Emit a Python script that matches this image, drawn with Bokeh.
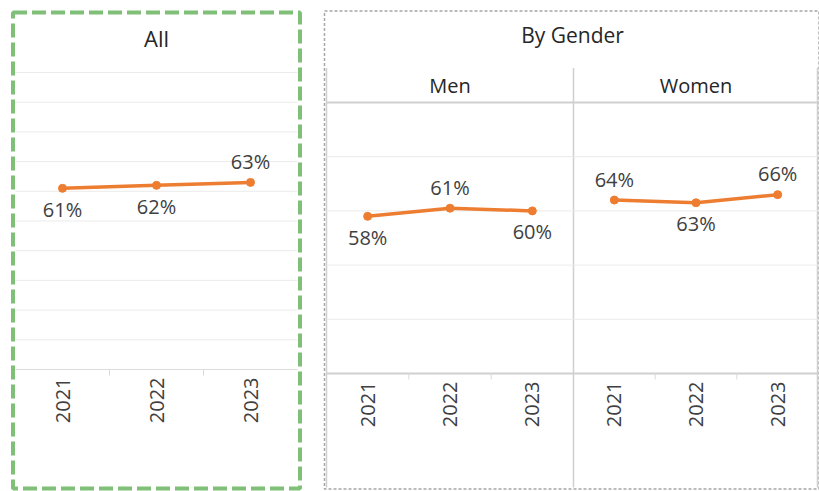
import math
from bokeh.plotting import figure
from bokeh.models import Range1d
from bokeh.core.properties import value
from bokeh.embed import file_html
from bokeh.resources import INLINE

# ---------------- data ----------------
years = ["2021", "2022", "2023"]
all_values = [0.61, 0.62, 0.63]
men_values = [0.58, 0.61, 0.60]
women_values = [0.64, 0.63, 0.66]
all_label_pos = ["below", "below", "above"]
men_label_pos = ["below", "above", "below"]
women_label_pos = ["above", "below", "above"]
all_gridlines = [0.0, 0.1, 0.2, 0.3, 0.4, 0.5, 0.6, 0.7, 0.8, 0.9, 1.0]
gender_gridlines = [0.0, 0.2, 0.4, 0.6, 0.8, 1.0]
title_all = "All"
title_gender = "By Gender"
gender_groups = ["Men", "Women"]

# ---------------- layout / style ----------------
W, H = 819, 491
FONT = "Open Sans"
ORANGE = "#ED7D31"
LABEL_COLOR = "#404040"
TITLE_COLOR = "#262626"
GREEN = "#80BF78"

ALL_L, ALL_R, ALL_T, ALL_B = 15, 297, 72, 369
MEN_L, MEN_R = 326, 573
WOM_L, WOM_R = 573, 818
G_T, G_B = 102, 373

p = figure(width=W, height=H, output_backend="svg", toolbar_location=None,
           x_range=Range1d(0, W), y_range=Range1d(H, 0),
           x_axis_type=None, y_axis_type=None, min_border=0,
           outline_line_color=None, background_fill_color="white",
           border_fill_color="white")

xr, yr = {}, {}
n = len(years)


def add_panel(name, left, right, top, bottom):
    sx = n / (right - left)
    xr[name] = Range1d(-0.5 - left * sx, -0.5 + (W - left) * sx)
    sy = 1.0 / (bottom - top)
    yr[name] = Range1d(0 - (H - bottom) * sy, 1 + top * sy)
    return sy


sy_all = add_panel("all", ALL_L, ALL_R, ALL_T, ALL_B)
sy_men = add_panel("men", MEN_L, MEN_R, G_T, G_B)
sy_wom = add_panel("women", WOM_L, WOM_R, G_T, G_B)
p.extra_x_ranges = xr
p.extra_y_ranges = yr

# ---------- decorations in pixel space ----------
# green dashed box around "All"
p.quad(left=[12.5], right=[299.5], top=[12], bottom=[488], fill_color=None,
       line_color=GREEN, line_width=4, line_dash="14 5")
# grey dashed box around "By Gender"
p.quad(left=[324], right=[818.5], top=[10.5], bottom=[488.5], fill_color=None,
       line_color="#A6A6A6", line_width=1.5, line_dash="3 2")
# vertical separators of the gender facets
p.segment(x0=[MEN_L, WOM_L, WOM_R - 1], x1=[MEN_L, WOM_L, WOM_R - 1],
          y0=[67.5] * 3, y1=[487] * 3, line_color="#D0D0D0", line_width=1.5)

# titles
p.text(x=[(ALL_L + ALL_R) / 2], y=[37], text=[title_all], text_align="center",
       text_baseline="middle", text_font=value(FONT), text_font_size="22px",
       text_color=TITLE_COLOR)
p.text(x=[(MEN_L + WOM_R) / 2], y=[34], text=[title_gender], text_align="center",
       text_baseline="middle", text_font=value(FONT), text_font_size="21px",
       text_color=TITLE_COLOR)
p.text(x=[(MEN_L + MEN_R) / 2, (WOM_L + WOM_R) / 2], y=[85, 85], text=gender_groups,
       text_align="center", text_baseline="middle", text_font=value(FONT),
       text_font_size="20px", text_color=TITLE_COLOR)


def draw_panel(name, values, label_pos, gridlines, sy, heavy_edges):
    idx = list(range(n))
    kw = dict(x_range_name=name, y_range_name=name)
    # gridlines
    light = [g for g in gridlines if not (heavy_edges and g in (0.0, 1.0))]
    p.segment(x0=[-0.5] * len(light), x1=[n - 0.5] * len(light), y0=light, y1=light,
              line_color="#EBEBEB", line_width=1, **kw)
    if heavy_edges:
        edges = [0.0, 1.0]
        p.segment(x0=[-0.5] * 2, x1=[n - 0.5] * 2, y0=edges, y1=edges,
                  line_color="#D0D0D0", line_width=2, **kw)
    else:
        p.segment(x0=[-0.5], x1=[n - 0.5], y0=[0.0], y1=[0.0],
                  line_color="#DDDDDD", line_width=1.2, **kw)
    # category boundary ticks
    b = [i + 0.5 for i in idx[:-1]]
    p.segment(x0=b, x1=b, y0=[0.0] * len(b), y1=[-6 * sy] * len(b),
              line_color="#D9D9D9", line_width=1, **kw)
    # series
    p.line(idx, values, line_color=ORANGE, line_width=3.5, **kw)
    p.scatter(idx, values, size=8, fill_color=ORANGE, line_color=ORANGE, **kw)
    # data labels
    for pos, off in (("above", -21), ("below", 21)):
        sel = [i for i in idx if label_pos[i] == pos]
        if not sel:
            continue
        p.text(x=sel, y=[values[i] for i in sel],
               text=[f"{round(values[i] * 100)}%" for i in sel],
               y_offset=off, text_align="center", text_baseline="middle",
               text_font=value(FONT), text_font_size="20px",
               text_color=LABEL_COLOR, **kw)
    # year labels (rotated)
    p.text(x=idx, y=[0.0] * n, text=years, angle=math.pi / 2,
           text_align="right", text_baseline="middle", y_offset=8,
           text_font=value(FONT), text_font_size="20px",
           text_color=LABEL_COLOR, **kw)


draw_panel("all", all_values, all_label_pos, all_gridlines, sy_all, False)
draw_panel("men", men_values, men_label_pos, gender_gridlines, sy_men, True)
draw_panel("women", women_values, women_label_pos, gender_gridlines, sy_wom, True)

open("out.html", "w").write(file_html(p, INLINE))
